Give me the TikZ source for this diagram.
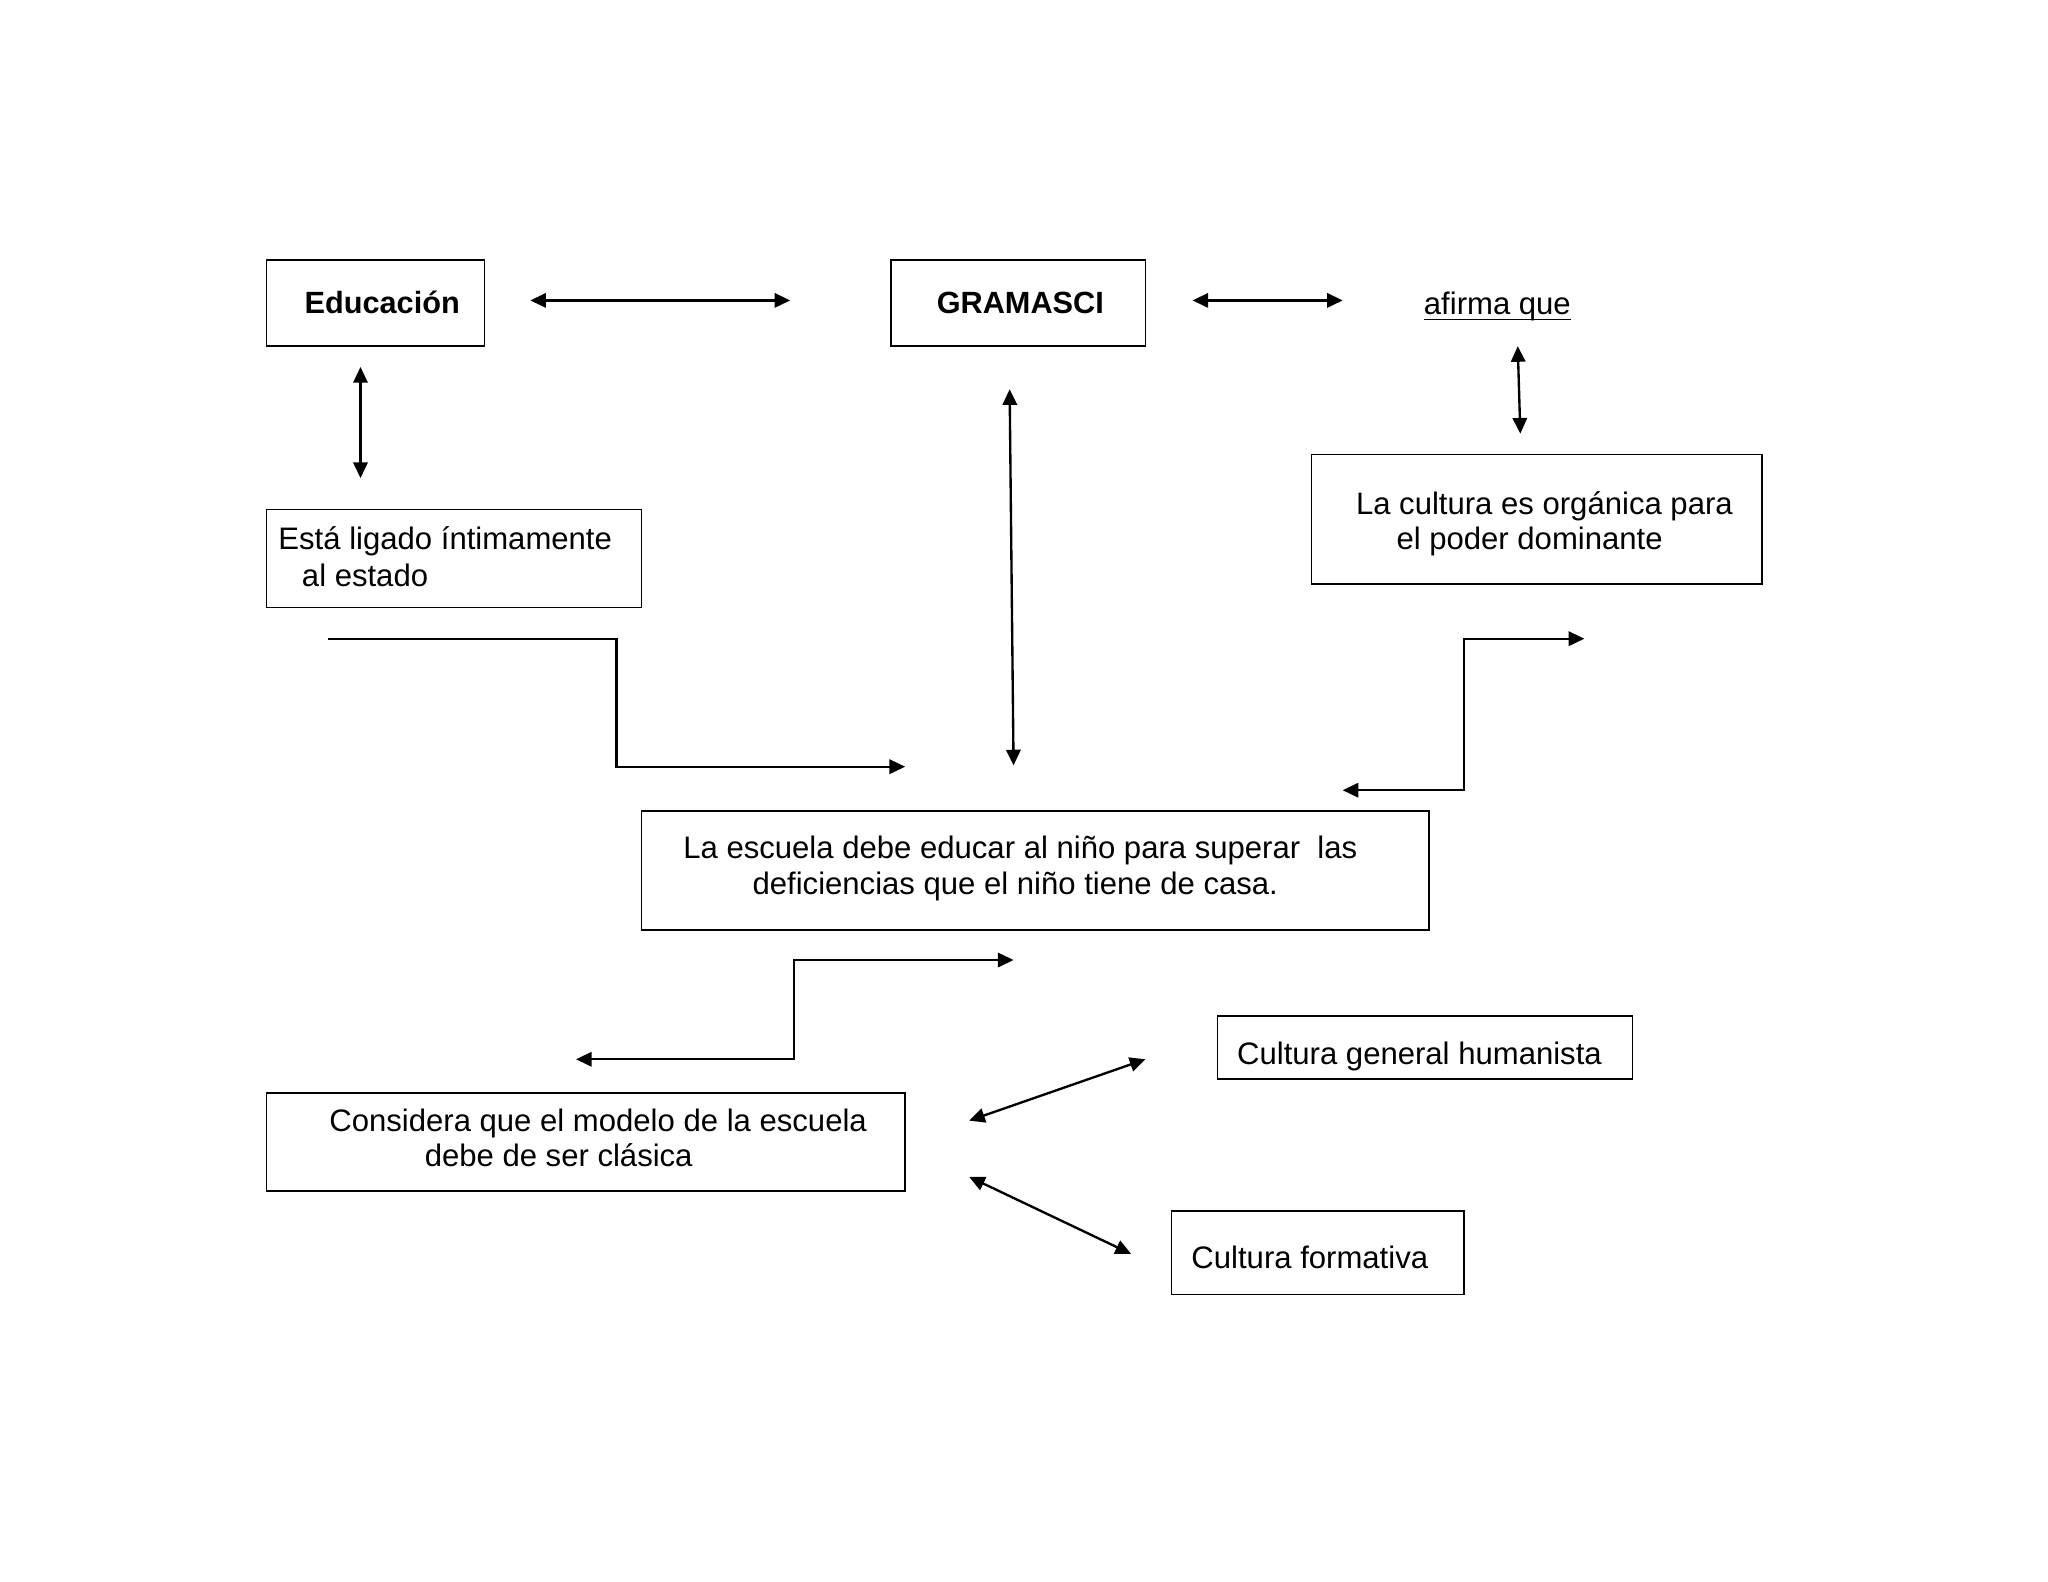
\documentclass[tikz,border=0pt]{standalone}
\usepackage{fontspec}
\setmainfont{Liberation Sans}
\usetikzlibrary{arrows.meta}
\begin{document}
\begin{tikzpicture}[x=1pt,y=-1pt,
  box/.style={draw, line width=1.2pt, inner sep=0pt},
  txt/.style={anchor=base west, inner sep=0pt, font=\fontsize{23.8}{28}\selectfont},
  boldtxt/.style={anchor=base west, inner sep=0pt, font=\fontsize{23.5}{28}\selectfont\bfseries},
  tip/.tip={Triangle[length=12pt,width=11pt]},
  both/.style={line width=1.8pt, tip-tip},
  one/.style={line width=1.8pt, -tip}
]
\useasboundingbox (0,0) rectangle (1568,1211);
\fill[white] (0,0) rectangle (1568,1211);

% boxes
\node[box, minimum width=167pt, minimum height=66pt] (edu) at (287.5,232) {};
\node[box, minimum width=195pt, minimum height=66pt] (gram) at (779.5,232) {};
\node[box, minimum width=345pt, minimum height=99pt] (org) at (1176.5,397.5) {};
\node[box, minimum width=287pt, minimum height=75pt] (esta) at (347.5,427.5) {};
\node[box, minimum width=603pt, minimum height=91pt] (esc) at (792.5,666.5) {};
\node[box, minimum width=489pt, minimum height=75pt] (cons) at (448.5,874.5) {};
\node[box, minimum width=318pt, minimum height=48pt] (hum) at (1091,802) {};
\node[box, minimum width=224pt, minimum height=64pt] (form) at (1009,959) {};

% texts
\node[boldtxt] (tedu) at (233,240) {Educación};
\node[boldtxt] (tgram) at (717,240) {GRAMASCI};
\node[txt] (afirma) at (1090,241) {afirma que};
\draw[line width=1.2pt] ([yshift=-3.5pt]afirma.base west) -- ([yshift=-3.5pt]afirma.base east);
\node[txt] (torg1) at (1038,394) {La cultura es orgánica para};
\node[txt] (torg2) at (1069,421) {el poder dominante};
\node[txt] (testa1) at (213,421) {Está ligado íntimamente};
\node[txt] (testa2) at (231,449) {al estado};
\node[txt] (tesc1) at (523,657) {La escuela debe educar al niño para superar\ \ las};
\node[txt] (tesc2) at (576,685) {deficiencias que el niño tiene de casa.};
\node[txt] (tcons1) at (252,866) {Considera que el modelo de la escuela};
\node[txt] (tcons2) at (325,893) {debe de ser clásica};
\node[txt] (thum) at (947,815) {Cultura general humanista};
\node[txt] (tform) at (912,971) {Cultura formativa};

% connector end points
\coordinate (a1) at (406,230); \coordinate (a2) at (605,230);
\coordinate (b1) at (913,230); \coordinate (b2) at (1028,230);
\coordinate (c1) at (1162,265); \coordinate (c2) at (1164,332);
\coordinate (d1) at (276,281); \coordinate (d2) at (276,366);
\coordinate (e1) at (773,298); \coordinate (e2) at (776,586);
\coordinate (f1) at (251,489); \coordinate (f2) at (693,587);
\coordinate (g1) at (1028,605); \coordinate (g2) at (1213,489);
\coordinate (h1) at (441,811); \coordinate (h2) at (776,735);
\coordinate (i1) at (742,858); \coordinate (i2) at (877,811);
\coordinate (j1) at (742,901); \coordinate (j2) at (866,960);

\draw[both] (a1) -- (a2);
\draw[both] (b1) -- (b2);
\draw[both] (c1) -- (c2);
\draw[both] (d1) -- (d2);
\draw[both] (e1) -- (e2);
\draw[one] (f1) -- (472,489) -- (472,587) -- (f2);
\draw[both] (g1) -- (1121,605) -- (1121,489) -- (g2);
\draw[both] (h1) -- (608,811) -- (608,735) -- (h2);
\draw[both] (i1) -- (i2);
\draw[both] (j1) -- (j2);
\end{tikzpicture}
\end{document}
